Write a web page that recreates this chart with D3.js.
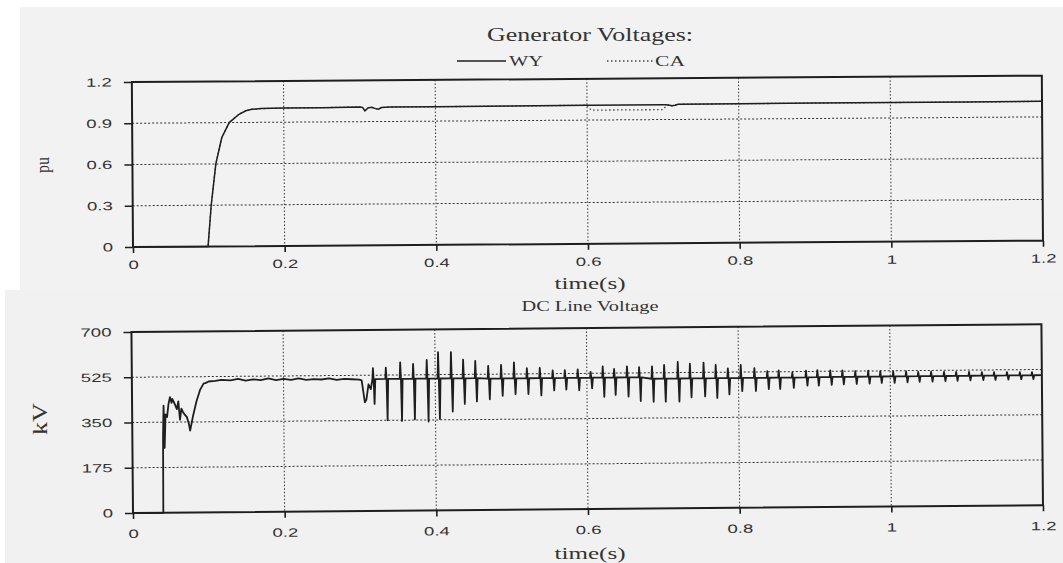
<!DOCTYPE html>
<html><head><meta charset="utf-8">
<script src="https://cdn.jsdelivr.net/npm/d3@7"></script>
<style>
html,body{margin:0;padding:0;background:#fff;}
svg{display:block;}
</style></head><body>
<svg id="chart" width="1063" height="563"></svg>
<script>
// ---------- data ----------
const xTicks = [0, 0.2, 0.4, 0.6, 0.8, 1, 1.2];
const puTicks = [0, 0.3, 0.6, 0.9, 1.2];
const kvTicks = [0, 175, 350, 525, 700];

const genTime = [0, 0.099, 0.1035, 0.110, 0.118, 0.128, 0.141, 0.150, 0.158, 0.170,
  0.200, 0.250, 0.300, 0.304, 0.307, 0.311, 0.316, 0.321, 0.325, 0.329,
  0.340, 0.400, 0.500, 0.600, 0.603, 0.606, 0.650, 0.700, 0.703, 0.707,
  0.712, 0.716, 0.720, 0.800, 0.900, 1.000, 1.100, 1.200];
const genWY = [0, 0, 0.30, 0.60, 0.79, 0.90, 0.96, 0.985, 0.995, 1.000,
  1.003, 1.004, 1.006, 1.004, 0.978, 1.000, 1.004, 0.994, 0.990, 1.002,
  1.005, 1.005, 1.006, 1.008, 1.008, 1.008, 1.008, 1.008, 1.008, 1.006,
  1.000, 1.004, 1.010, 1.011, 1.012, 1.012, 1.012, 1.013];
const genCA = [0, 0, 0.30, 0.60, 0.79, 0.90, 0.96, 0.985, 0.995, 1.000,
  1.003, 1.004, 1.006, 1.004, 0.978, 1.000, 1.004, 0.994, 0.990, 1.002,
  1.005, 1.005, 1.006, 1.008, 0.985, 0.972, 0.972, 0.972, 0.990, 1.006,
  1.000, 1.004, 1.010, 1.011, 1.012, 1.012, 1.012, 1.013];

const dcStartTime = [0, 0.040, 0.0405, 0.0415, 0.042, 0.0425, 0.044, 0.046, 0.048, 0.050,
  0.052, 0.053, 0.055, 0.057, 0.059, 0.061, 0.062, 0.063, 0.065, 0.067,
  0.069, 0.072, 0.0745, 0.0763, 0.080, 0.085, 0.090, 0.0947, 0.097, 0.101,
  0.110, 0.118, 0.130, 0.140, 0.150, 0.160, 0.170, 0.180, 0.190, 0.200,
  0.210, 0.220, 0.230, 0.240, 0.250, 0.260, 0.270, 0.280, 0.290, 0.300,
  0.303, 0.307, 0.309, 0.312, 0.315];
const dcStartKV = [0, 0, 300, 414, 330, 251, 380, 370, 420, 447,
  425, 440, 428, 415, 400, 430, 395, 359, 402, 389,
  380, 370, 345, 317, 370, 430, 475, 499, 500, 506,
  508, 512, 510, 515, 508, 513, 510, 516, 509, 514,
  510, 515, 509, 512, 510, 514, 508, 512, 510, 508,
  505, 420, 430, 490, 471];

const dcCycleTime = [0.318, 0.335, 0.354, 0.371, 0.389, 0.404, 0.421, 0.437, 0.453,
  0.470, 0.487, 0.504, 0.521, 0.538, 0.555, 0.571, 0.588, 0.605, 0.621, 0.636, 0.653, 0.669,
  0.686, 0.702, 0.720, 0.736, 0.754, 0.770, 0.786, 0.803, 0.821, 0.838, 0.853, 0.871, 0.889,
  0.904, 0.921, 0.937, 0.954, 0.971, 0.987, 1.004, 1.021, 1.037, 1.054, 1.071, 1.087, 1.104,
  1.121, 1.137, 1.154, 1.171, 1.187];
const dcCycleHigh = [552, 554, 574, 567, 582, 612, 612, 582, 577,
  557, 561, 570, 547, 548, 538, 538, 541, 531, 551, 541, 551, 547,
  550, 555, 566, 559, 563, 553, 540, 553, 540, 528, 530, 521, 528,
  530, 528, 528, 525, 526, 524, 522, 522, 520, 520, 519, 518, 518, 517, 516, 516, 515, 515];
const dcCycleLow = [414, 350, 347, 353, 344, 353, 382, 411, 420,
  428, 441, 447, 447, 441, 460, 463, 460, 467, 434, 441, 434, 416,
  413, 413, 413, 429, 432, 426, 439, 451, 451, 458, 458, 462, 470,
  470, 472, 474, 475, 476, 478, 478, 480, 481, 482, 483, 484, 485, 486, 486, 487, 488, 488];
const dcCycleBase = [510, 510, 510, 510, 510, 510, 510, 510, 510,
  508, 508, 508, 508, 508, 508, 508, 508, 508, 508, 508, 508, 508,
  502, 502, 502, 502, 502, 502, 502, 502, 502, 502, 502, 502, 502,
  503, 503, 503, 503, 503, 503, 503, 503, 503, 503, 503, 503, 503, 503, 503, 503, 503, 503];

// ---------- drawing ----------
const INK = "#1e1e1e";
const TXT = "#333";
const SANS = "'Liberation Sans', Arial, Helvetica, sans-serif";
const SERIF = "'Liberation Serif', 'Times New Roman', Times, serif";
const STRETCH = 1.55;

const svg = d3.select("#chart");
svg.append("rect").attr("x", 20).attr("y", 7).attr("width", 1043).attr("height", 285).attr("fill", "#f2f2f2");
svg.append("rect").attr("x", 5).attr("y", 290).attr("width", 1058).attr("height", 273).attr("fill", "#f1f1f1");

const x = d3.scaleLinear().domain([0, 1.2]).range([133, 1043]);

function panel(g, y, yTicks, labelOffset) {
  const [y0, y1] = y.range(); // bottom, top
  const [xa, xb] = x.range();
  g.append("g").selectAll("line").data(xTicks.slice(1, -1)).join("line")
    .attr("x1", d => x(d)).attr("x2", d => x(d)).attr("y1", y1).attr("y2", y0)
    .attr("stroke", "#333").attr("stroke-width", 1).attr("stroke-dasharray", "1.5,2");
  g.append("g").selectAll("line").data(yTicks.slice(1, -1)).join("line")
    .attr("x1", xa).attr("x2", xb).attr("y1", d => y(d)).attr("y2", d => y(d))
    .attr("stroke", "#333").attr("stroke-width", 1).attr("stroke-dasharray", "2,2");
  const ax = g.append("g").attr("transform", `translate(0,${y0})`)
    .call(d3.axisBottom(x).tickValues(xTicks).tickSize(6).tickFormat(d => String(d)));
  const ay = g.append("g").attr("transform", `translate(${xa},0)`)
    .call(d3.axisLeft(y).tickValues(yTicks).tickSize(8).tickFormat(d => String(d)));
  [ax, ay].forEach(a => {
    a.select(".domain").remove();
    a.selectAll(".tick line").attr("stroke", INK).attr("stroke-width", 1.6);
    a.selectAll("text").attr("fill", TXT).style("font-family", SANS).style("font-size", "12px")
      .attr("transform", `scale(${STRETCH},1)`);
  });
  ax.selectAll("text").attr("y", labelOffset).attr("dy", 0);
  ay.selectAll("text").attr("x", -20 / STRETCH);
  g.append("rect").attr("x", xa).attr("y", y1).attr("width", xb - xa).attr("height", y0 - y1)
    .attr("fill", "none").attr("stroke", INK).attr("stroke-width", 2);
}

// ---- top panel ----
const gTop = svg.append("g").attr("transform", "rotate(-0.4,133,247)");
const yPu = d3.scaleLinear().domain([0, 1.2]).range([247, 82]);
panel(gTop, yPu, puTicks, 22);
const genLine = d3.line().x(d => x(d[0])).y(d => yPu(d[1]));
gTop.append("path").datum(genTime.map((t, i) => [t, genCA[i]]))
  .attr("d", genLine).attr("fill", "none").attr("stroke", "#444").attr("stroke-width", 1.3)
  .attr("stroke-dasharray", "1.5,2.5");
gTop.append("path").datum(genTime.map((t, i) => [t, genWY[i]]))
  .attr("d", genLine).attr("fill", "none").attr("stroke", INK).attr("stroke-width", 1.5);

// ---- bottom panel ----
const gBot = svg.append("g").attr("transform", "rotate(-0.49,133,513)");
const yKv = d3.scaleLinear().domain([0, 700]).range([513, 332]);
panel(gBot, yKv, kvTicks, 25);
const dcPts = dcStartTime.map((t, i) => [t, dcStartKV[i]]);
dcCycleTime.forEach((t, i) => {
  const b = dcCycleBase[i];
  dcPts.push([t - 0.0008, b], [t, dcCycleHigh[i]], [t + 0.0008, b], [t + 0.0018, dcCycleLow[i]], [t + 0.003, b]);
});
dcPts.push([x.domain()[1], dcCycleBase[dcCycleBase.length - 1]]);
gBot.append("path").datum(dcPts)
  .attr("d", d3.line().x(d => x(d[0])).y(d => yKv(d[1])))
  .attr("fill", "none").attr("stroke", INK).attr("stroke-width", 1.8).attr("stroke-linejoin", "round");

// ---- texts ----
function serifText(txt, xx, yy, size, len, anchor) {
  return svg.append("text").attr("x", xx).attr("y", yy).text(txt)
    .attr("fill", TXT).style("font-family", SERIF).style("font-size", size + "px")
    .attr("text-anchor", anchor || "start")
    .attr("textLength", len).attr("lengthAdjust", "spacingAndGlyphs");
}
serifText("Generator Voltages:", 487, 41, 18, 206);
svg.append("line").attr("x1", 457).attr("x2", 506).attr("y1", 61).attr("y2", 61)
  .attr("stroke", INK).attr("stroke-width", 1.3);
serifText("WY", 509, 66, 15, 34);
svg.append("line").attr("x1", 607).attr("x2", 653).attr("y1", 61).attr("y2", 61)
  .attr("stroke", "#444").attr("stroke-width", 1.3).attr("stroke-dasharray", "1.5,2.5");
serifText("CA", 655, 66, 15, 30);

serifText("time(s)", 590, 289, 16, 71, "middle");
serifText("DC Line Voltage", 590, 311, 14, 137, "middle");
serifText("time(s)", 590, 559, 16, 71, "middle");

svg.append("text").attr("transform", "translate(49,165) rotate(-90)").text("pu")
  .attr("fill", TXT).style("font-family", SERIF).style("font-size", "18px")
  .attr("text-anchor", "middle").attr("textLength", 16).attr("lengthAdjust", "spacingAndGlyphs");
svg.append("text").attr("transform", "translate(47,419) rotate(-90)").text("kV")
  .attr("fill", TXT).style("font-family", SERIF).style("font-size", "21px")
  .attr("text-anchor", "middle").attr("textLength", 32).attr("lengthAdjust", "spacingAndGlyphs");
</script>
</body></html>
